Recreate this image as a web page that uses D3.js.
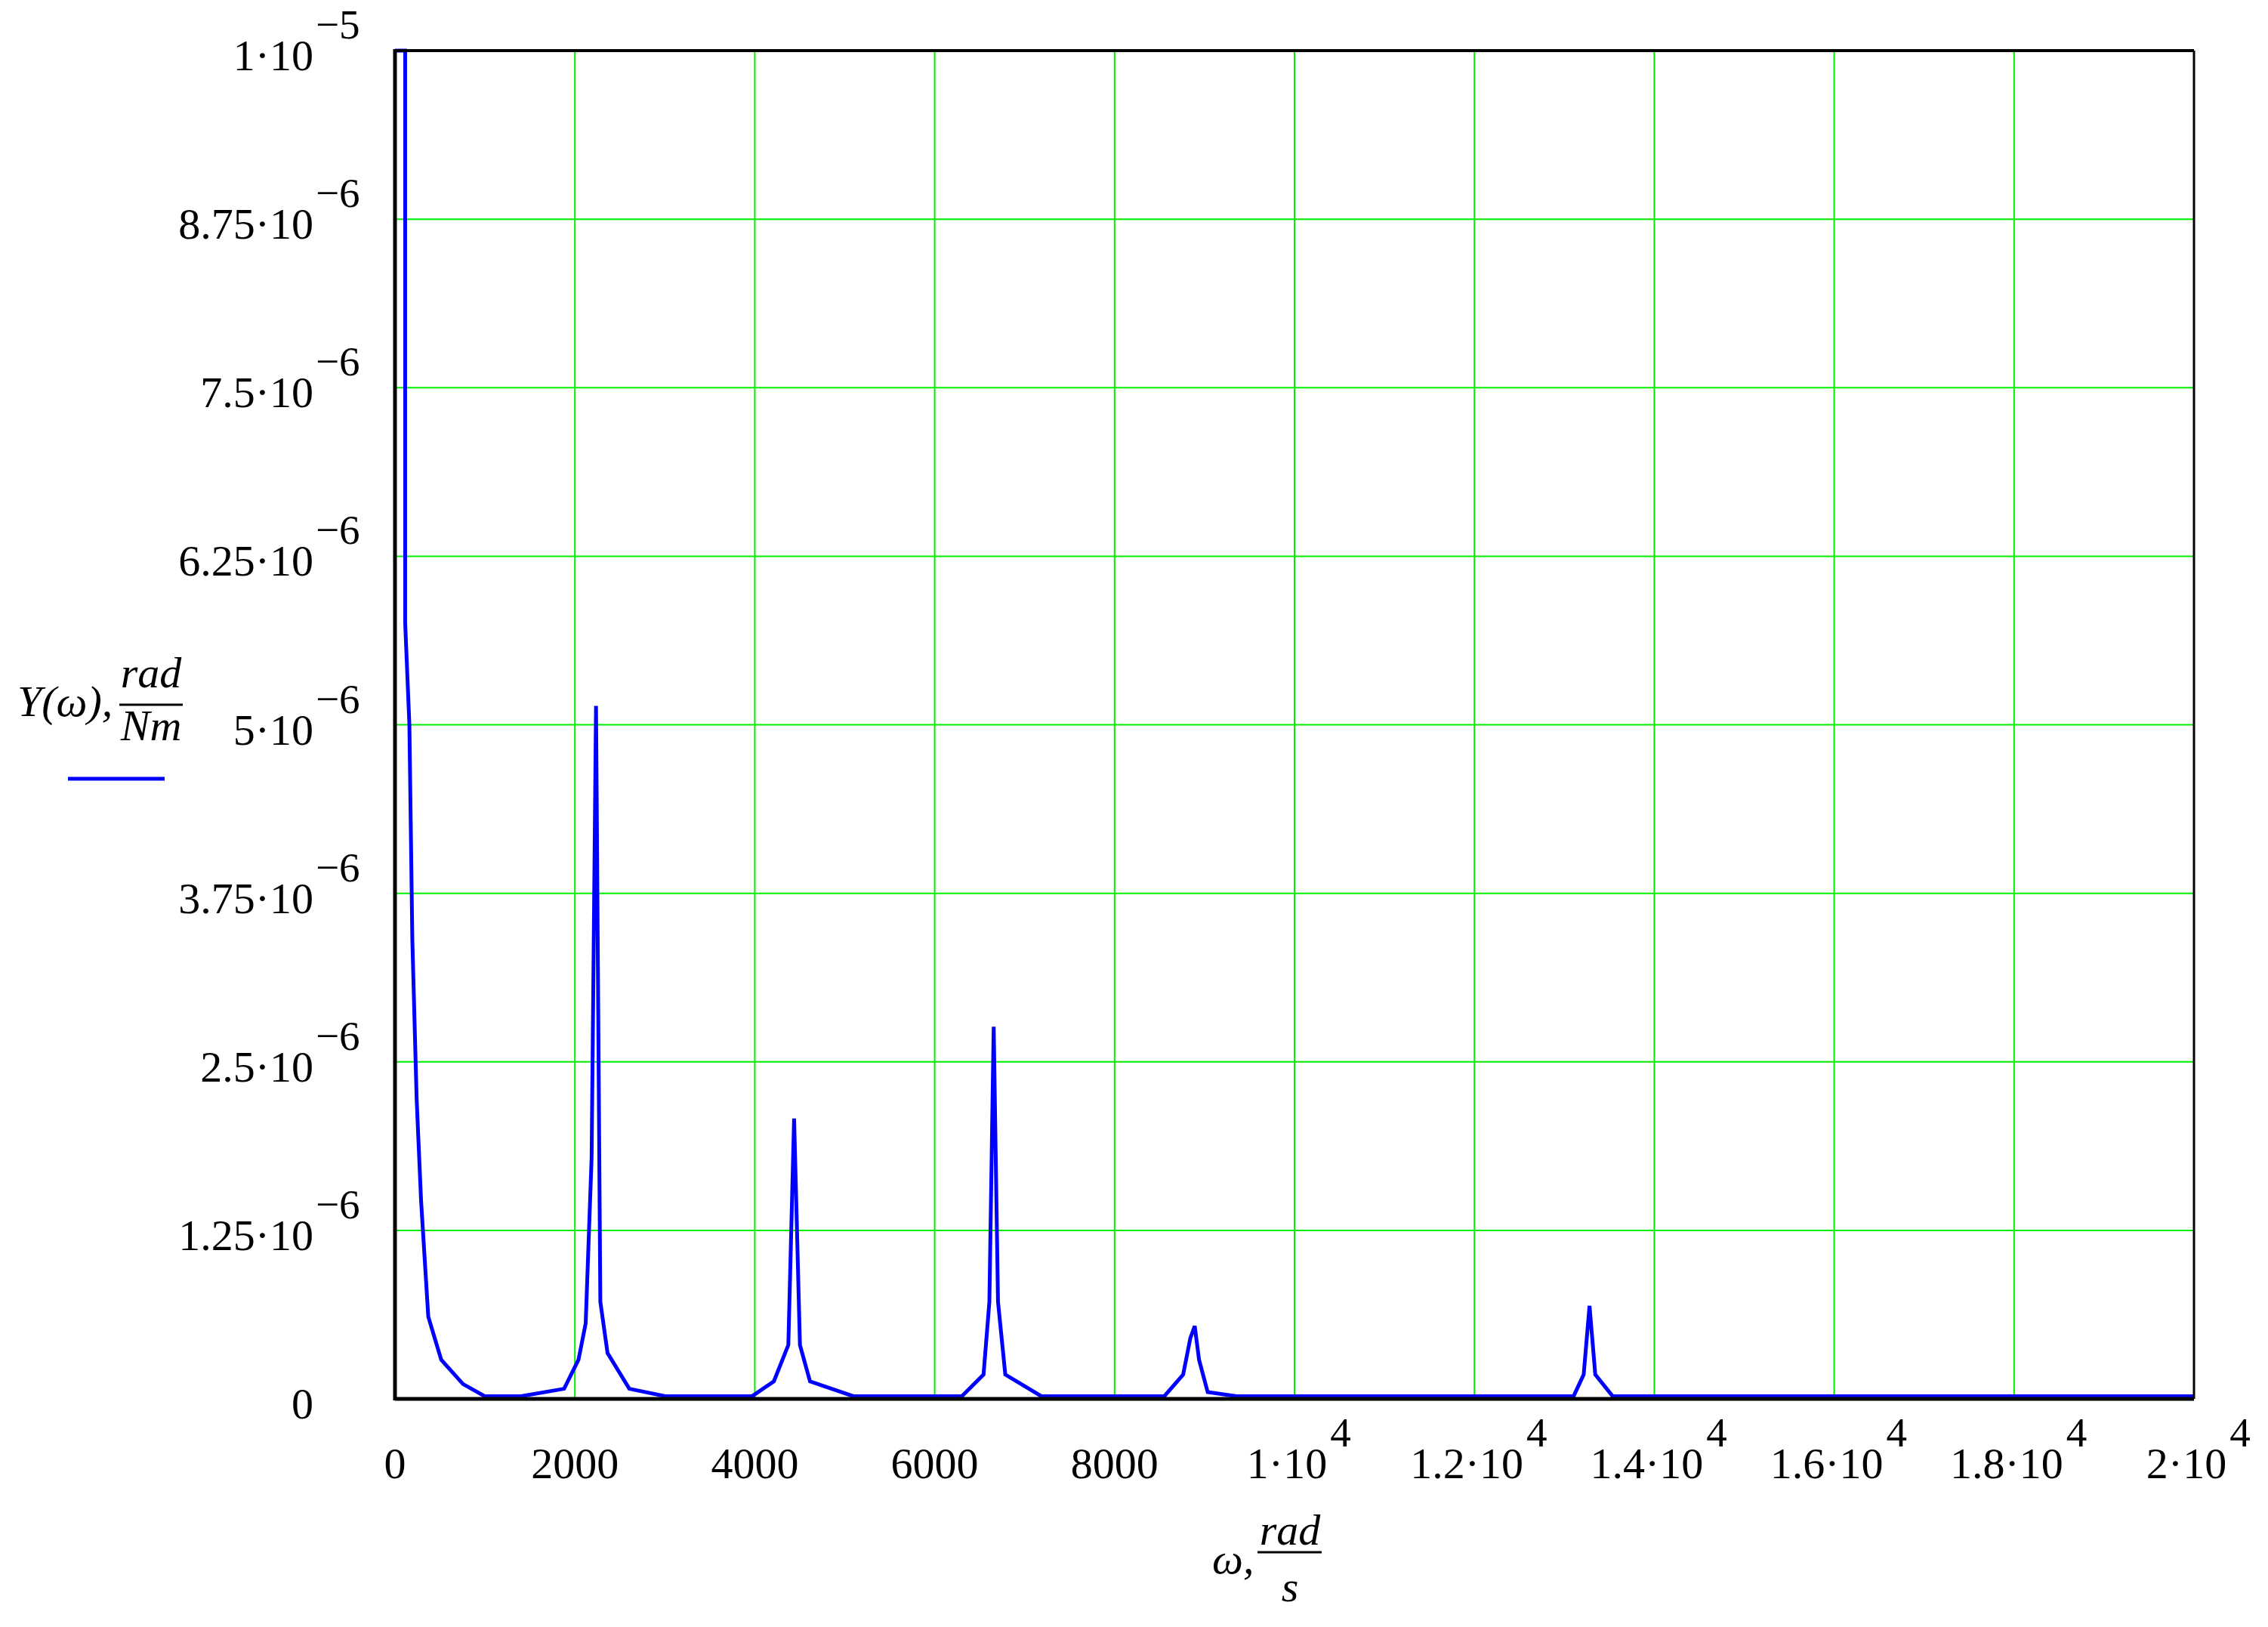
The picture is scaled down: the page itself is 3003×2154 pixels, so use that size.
<!DOCTYPE html>
<html lang="en">
<head>
<meta charset="UTF-8">
<title>Y(omega)</title>
<style>
  html, body { margin: 0; background: #fff; overflow: hidden; }
  text { font-family: "Liberation Serif", "DejaVu Serif", serif; fill: #000; }
</style>
</head>
<body>
<div id="container"></div>
<script src="https://cdnjs.cloudflare.com/ajax/libs/d3/7.8.5/d3.min.js"></script>
<script>
// omega, rad/s
var omega = [0, 113, 113, 160, 193, 241, 290, 370, 514, 756, 997, 1400, 1880, 2040, 2120, 2186, 2235, 2283, 2363, 2605, 3006,
  3971, 4212, 4373, 4437, 4502, 4614, 5096, 6302, 6543, 6608, 6656, 6704, 6785, 7186, 8553, 8762, 8842, 8891, 8939, 9035,
  9357, 13103, 13215, 13280, 13344, 13537, 20000];
// Y(omega), 1e-6 rad/Nm
var yMicro = [10, 10, 5.76, 5.0, 3.4, 2.22, 1.47, 0.61, 0.29, 0.11, 0.02, 0.02, 0.075, 0.29, 0.56, 1.79, 5.14, 0.72, 0.34, 0.075, 0.02,
  0.02, 0.13, 0.4, 2.08, 0.4, 0.13, 0.02, 0.02, 0.18, 0.72, 2.76, 0.72, 0.18, 0.02, 0.02, 0.18, 0.45, 0.54, 0.29, 0.05,
  0.02, 0.02, 0.18, 0.69, 0.18, 0.02, 0.02];

var xTicks = [0, 2000, 4000, 6000, 8000, 10000, 12000, 14000, 16000, 18000, 20000];
var xTickBase = ["0", "2000", "4000", "6000", "8000", "1\u00b710", "1.2\u00b710", "1.4\u00b710", "1.6\u00b710", "1.8\u00b710", "2\u00b710"];
var xTickExp = ["", "", "", "", "", "4", "4", "4", "4", "4", "4"];
var yTicks = [0, 1.25, 2.5, 3.75, 5, 6.25, 7.5, 8.75, 10];
var yTickBase = ["0", "1.25\u00b710", "2.5\u00b710", "3.75\u00b710", "5\u00b710", "6.25\u00b710", "7.5\u00b710", "8.75\u00b710", "1\u00b710"];
var yTickExp = ["", "\u22126", "\u22126", "\u22126", "\u22126", "\u22126", "\u22126", "\u22126", "\u22125"];

var W = 3003, H = 2154;
var L = 523, R = 2905, T = 67, B = 1852;

var svg = d3.select('#container').append('svg')
  .attr('width', W).attr('height', H);

var x = d3.scaleLinear().domain([0, 20000]).range([L, R]);
var y = d3.scaleLinear().domain([0, 10]).range([B, T]);

// grid
svg.append('g').selectAll('line').data(xTicks).enter().append('line')
  .attr('x1', d => x(d)).attr('x2', d => x(d)).attr('y1', T).attr('y2', B)
  .style('stroke', '#00ee00').style('stroke-width', 2);
svg.append('g').selectAll('line').data(yTicks).enter().append('line')
  .attr('y1', d => y(d)).attr('y2', d => y(d)).attr('x1', L).attr('x2', R)
  .style('stroke', '#00ee00').style('stroke-width', 2);

// curve
var pts = omega.map((w, i) => [w, yMicro[i]]);
svg.append('path').datum(pts)
  .attr('d', d3.line().x(d => x(d[0])).y(d => y(d[1])))
  .style('fill', 'none').style('stroke', '#0000ff').style('stroke-width', 5);

// frame
svg.append('line').attr('x1', L).attr('x2', L).attr('y1', T - 2).attr('y2', B + 2)
  .style('stroke', '#000').style('stroke-width', 5);
svg.append('line').attr('x1', L).attr('x2', R).attr('y1', B).attr('y2', B)
  .style('stroke', '#000').style('stroke-width', 5);
svg.append('line').attr('x1', L).attr('x2', R).attr('y1', T).attr('y2', T)
  .style('stroke', '#000').style('stroke-width', 4);
svg.append('line').attr('x1', R).attr('x2', R).attr('y1', T).attr('y2', B)
  .style('stroke', '#000').style('stroke-width', 3);

// y tick labels
var fs = 58;
yTicks.forEach(function(v, i) {
  svg.append('text').attr('x', 415).attr('y', y(v) + 26)
    .attr('text-anchor', 'end').style('font-size', fs + 'px').text(yTickBase[i]);
  if (yTickExp[i]) {
    svg.append('text').attr('x', 418).attr('y', y(v) - 16)
      .style('font-size', (fs * 0.95) + 'px').text(yTickExp[i]);
  }
});

// x tick labels
xTicks.forEach(function(v, i) {
  var g = svg.append('text').attr('x', x(v) + (xTickExp[i] ? -10 : 0)).attr('y', 1957)
    .attr('text-anchor', 'middle').style('font-size', fs + 'px').text(xTickBase[i]);
  if (xTickExp[i]) {
    var bb = g.node().getBBox();
    svg.append('text').attr('x', bb.x + bb.width + 4).attr('y', 1915)
      .style('font-size', (fs * 0.95) + 'px').text(xTickExp[i]);
  }
});

// y title
svg.append('text').attr('x', 23).attr('y', 948).style('font-size', fs + 'px')
  .style('font-style', 'italic').text('Y(\u03c9),');
svg.append('text').attr('x', 200).attr('y', 910).attr('text-anchor', 'middle')
  .style('font-size', fs + 'px').style('font-style', 'italic').text('rad');
svg.append('line').attr('x1', 158).attr('x2', 242).attr('y1', 933).attr('y2', 933)
  .style('stroke', '#000').style('stroke-width', 3);
svg.append('text').attr('x', 200).attr('y', 980).attr('text-anchor', 'middle')
  .style('font-size', fs + 'px').style('font-style', 'italic').text('Nm');
svg.append('line').attr('x1', 90).attr('x2', 218).attr('y1', 1031).attr('y2', 1031)
  .style('stroke', '#0000ff').style('stroke-width', 5);

// x title
svg.append('text').attr('x', 1605).attr('y', 2083).style('font-size', fs + 'px')
  .style('font-style', 'italic').text('\u03c9,');
svg.append('text').attr('x', 1708).attr('y', 2045).attr('text-anchor', 'middle')
  .style('font-size', fs + 'px').style('font-style', 'italic').text('rad');
svg.append('line').attr('x1', 1665).attr('x2', 1750).attr('y1', 2055).attr('y2', 2055)
  .style('stroke', '#000').style('stroke-width', 3);
svg.append('text').attr('x', 1708).attr('y', 2120).attr('text-anchor', 'middle')
  .style('font-size', fs + 'px').style('font-style', 'italic').text('s');
</script>
</body>
</html>
